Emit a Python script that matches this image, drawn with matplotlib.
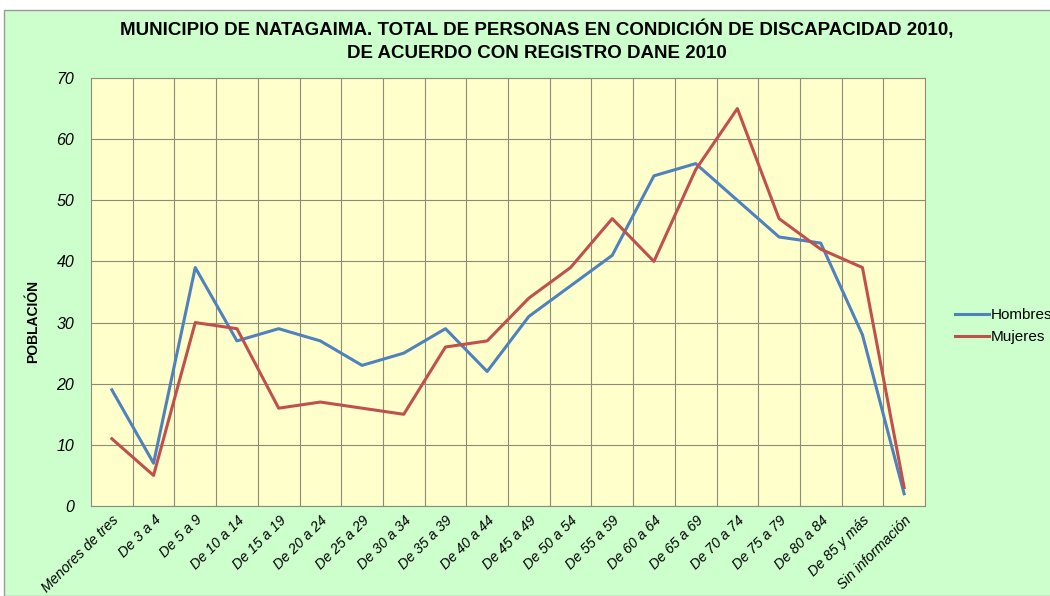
import matplotlib
matplotlib.use("Agg")
import matplotlib.pyplot as plt
from matplotlib.patches import Rectangle

# datos
categorias = ["Menores de tres", "De 3 a 4", "De 5 a 9", "De 10 a 14", "De 15 a 19",
              "De 20 a 24", "De 25 a 29", "De 30 a 34", "De 35 a 39", "De 40 a 44",
              "De 45 a 49", "De 50 a 54", "De 55 a 59", "De 60 a 64", "De 65 a 69",
              "De 70 a 74", "De 75 a 79", "De 80 a 84", "De 85 y más", "Sin información"]
hombres = [19, 7, 39, 27, 29, 27, 23, 25, 29, 22, 31, 36, 41, 54, 56, 50, 44, 43, 28, 2]
mujeres = [11, 5, 30, 29, 16, 17, 16, 15, 26, 27, 34, 39, 47, 40, 55, 65, 47, 42, 39, 3]
yticks = [0, 10, 20, 30, 40, 50, 60, 70]

plt.rcParams["font.family"] = ["Liberation Sans", "DejaVu Sans"]

fig = plt.figure(figsize=(10.5, 5.96), dpi=100)
fig.patch.set_facecolor("white")

# fondo verde del área del gráfico
fig.patches.append(Rectangle((4 / 1050, 0), 1.0, 586 / 596, transform=fig.transFigure,
                             facecolor="#CCFFCC", edgecolor="#9a9a9a", linewidth=1.0, zorder=-5))

ax = fig.add_axes([91 / 1050, 1 - 506 / 596, 834 / 1050, 428 / 596])
ax.set_facecolor("#FFFFCC")

x = list(range(len(categorias)))
ax.plot(x, hombres, color="#4F81BD", linewidth=2.2, label="Hombres", zorder=3)
ax.plot(x, mujeres, color="#C0504D", linewidth=2.2, label="Mujeres", zorder=3)

ax.set_xlim(-0.5, len(categorias) - 0.5)
ax.set_ylim(0, 70)
ax.set_yticks(yticks)
ax.set_yticklabels([str(v) for v in yticks], fontsize=11.5, style="italic")
ax.set_xticks(x)
ax.set_xticklabels(categorias, rotation=45, ha="right", rotation_mode="anchor",
                   fontsize=10.2, style="italic")
ax.set_xticks([i + 0.5 for i in range(len(categorias) - 1)], minor=True)
ax.tick_params(axis="both", which="both", length=0)
ax.tick_params(axis="x", pad=5)
ax.tick_params(axis="y", pad=12)

ax.grid(True, which="minor", axis="x", color="#8c8c7a", linewidth=0.8)
ax.grid(True, which="major", axis="y", color="#8c8c7a", linewidth=0.8)
ax.set_axisbelow(True)
for s in ax.spines.values():
    s.set_color("#8c8c7a")
    s.set_linewidth(0.8)

ax.set_ylabel("POBLACIÓN", fontsize=10, fontweight="bold")
ax.yaxis.set_label_coords(-0.061, 0.43)

fig.text(0.511, 1 - 41 / 596,
         "MUNICIPIO DE NATAGAIMA. TOTAL DE PERSONAS EN CONDICIÓN DE DISCAPACIDAD 2010,\n"
         "DE ACUERDO CON REGISTRO DANE 2010",
         ha="center", va="center", fontsize=13.5, fontweight="bold", linespacing=1.45)

ax.legend(loc="center left", bbox_to_anchor=(1.02, 0.42), frameon=False,
          fontsize=11, handlelength=2.2, handletextpad=0.1, labelspacing=0.5)

fig.savefig("out.png", dpi=100, facecolor=fig.get_facecolor())
